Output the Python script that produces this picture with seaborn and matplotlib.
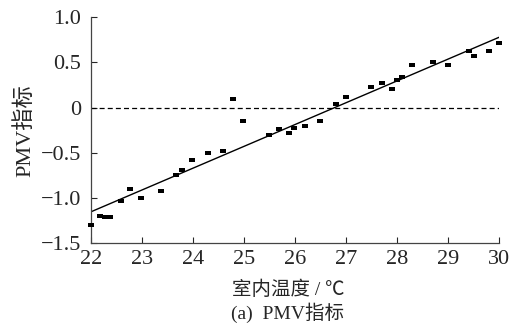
import numpy as np
import pandas as pd
import matplotlib
matplotlib.use('Agg')
import matplotlib.pyplot as plt
import seaborn as sns

temp = [22.0, 22.18, 22.28, 22.38, 22.59, 22.78, 22.98, 23.38, 23.68, 23.79,
        23.99, 24.29, 24.59, 24.79, 24.99, 25.49, 25.69, 25.89, 25.99, 26.19,
        26.49, 26.80, 27.00, 27.50, 27.70, 27.90, 28.00, 28.10, 28.30, 28.71,
        29.01, 29.41, 29.51, 29.81, 30.00]
pmv = [-1.30, -1.20, -1.21, -1.21, -1.04, -0.90, -1.00, -0.92, -0.75, -0.69,
       -0.58, -0.50, -0.48, 0.10, -0.15, -0.30, -0.24, -0.28, -0.23, -0.20,
       -0.15, 0.04, 0.12, 0.23, 0.27, 0.21, 0.30, 0.34, 0.47, 0.50,
       0.47, 0.63, 0.57, 0.63, 0.71]

# linear fit shown in the figure
fit_slope = 0.2417
fit_intercept = -6.473
fit_x = [22, 30]

xticks = [22, 23, 24, 25, 26, 27, 28, 29, 30]
yticks = [1.0, 0.5, 0, -0.5, -1.0, -1.5]
ytick_labels = ['1.0', '0.5', '0', '\u22120.5', '\u22121.0', '\u22121.5']

sns.set_style('ticks')
plt.rcParams['font.family'] = ['Liberation Serif', 'Noto Sans CJK SC']
plt.rcParams['axes.unicode_minus'] = True

df = pd.DataFrame({'temp': temp, 'pmv': pmv})
df_fit = pd.DataFrame({'x': fit_x})
df_fit['y'] = fit_slope * df_fit['x'] + fit_intercept

fig = plt.figure(figsize=(5.17, 3.32), dpi=100)
ax = fig.add_axes([0.1754, 0.268, 0.7898, 0.680])

ax.axhline(0, color='black', linestyle=(0, (4, 2.5)), linewidth=0.9)
sns.lineplot(data=df_fit, x='x', y='y', color='black', linewidth=1.0, ax=ax)
rect = [(-1.5, -1), (1.5, -1), (1.5, 1), (-1.5, 1)]
sns.scatterplot(data=df, x='temp', y='pmv', marker=rect, s=22, color='black',
                edgecolor='black', linewidth=0, ax=ax, clip_on=False, zorder=3)

ax.set_xlim(22, 30)
ax.set_ylim(-1.5, 1.0)
ax.set_xticks(xticks)
ax.set_yticks(yticks)
ax.set_yticklabels(ytick_labels)
ax.tick_params(axis='x', direction='in', length=4, width=0.8, labelsize=16, pad=5)
ax.tick_params(axis='y', direction='in', length=4, width=0.8, labelsize=16, pad=7)
ax.set_xlabel('')
ax.set_ylabel('')
sns.despine(ax=ax)
for s in ['left', 'bottom']:
    ax.spines[s].set_color('#444444')
    ax.spines[s].set_linewidth(0.9)

fig.text(0.557, 0.127, '室内温度 / ℃', ha='center', va='center', fontsize=14)
fig.text(0.557, 0.058, '(a)  PMV指标', ha='center', va='center', fontsize=14)
fig.text(0.048, 0.608, 'PMV指标', ha='center', va='center', rotation=90, fontsize=16)

plt.savefig('out.png', dpi=100)
plt.close()
